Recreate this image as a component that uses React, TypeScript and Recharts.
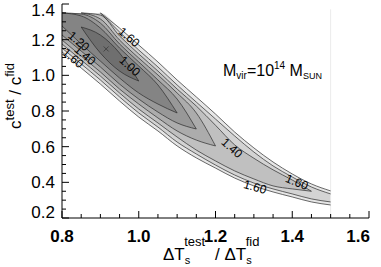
import React from 'react';
import { Area, ComposedChart, Line, ReferenceLine, Scatter, XAxis, YAxis } from 'recharts';

// x grid of the contour map (ΔTs test / fid)
const xGrid = [0.8, 0.85, 0.9, 0.95, 1.0, 1.05, 1.1, 1.15, 1.2, 1.25, 1.3, 1.35, 1.4, 1.45, 1.5];

// upper / lower edge of each filled contour level (1.35 = top of the map)
const level160Hi = [1.35, 1.35, 1.35, 1.265, 1.17, 1.075, 0.974, 0.879, 0.783, 0.682, 0.593, 0.514, 0.447, 0.391, 0.352];
const level160Lo = [1.131, 1.041, 0.951, 0.856, 0.766, 0.688, 0.604, 0.537, 0.48, 0.424, 0.38, 0.346, 0.318, 0.29, 0.273];
const level150Hi = [1.35, 1.35, 1.35, 1.243, 1.142, 1.047, 0.946, 0.85, 0.755, 0.66, 0.57, 0.492, 0.43, 0.374, 0.335];
const level150Lo = [1.153, 1.064, 0.974, 0.879, 0.789, 0.71, 0.626, 0.559, 0.497, 0.441, 0.396, 0.363, 0.335, 0.307, 0.29];
const level140Hi = [1.35, 1.35, 1.338, 1.221, 1.12, 1.024, 0.923, 0.828, 0.72, 0.61, 0.535, 0.47, 0.413, 0.35, null];
const level140Lo = [1.176, 1.086, 0.996, 0.901, 0.811, 0.733, 0.654, 0.581, 0.52, 0.464, 0.419, 0.38, 0.363, 0.35, null];
const level130Hi = [1.35, 1.35, 1.316, 1.198, 1.097, 1.002, 0.901, 0.789, 0.604, null, null, null, null, null, null];
const level130Lo = [1.198, 1.108, 1.019, 0.923, 0.839, 0.761, 0.688, 0.637, 0.604, null, null, null, null, null, null];
const level120Hi = [1.35, 1.344, 1.293, 1.176, 1.075, 0.974, 0.867, 0.699, null, null, null, null, null, null, null];
const level120Lo = [1.226, 1.136, 1.047, 0.951, 0.867, 0.794, 0.733, 0.699, null, null, null, null, null, null, null];
const level110Hi = [1.35, 1.333, 1.265, 1.153, 1.052, 0.946, 0.789, null, null, null, null, null, null, null, null];
const level110Lo = [1.277, 1.176, 1.08, 0.985, 0.901, 0.839, 0.789, null, null, null, null, null, null, null, null];
const level100Hi = [null, 1.271, 1.226, 1.125, 0.968, null, null, null, null, null, null, null, null, null, null];
const level100Lo = [null, 1.271, 1.125, 1.024, 0.968, null, null, null, null, null, null, null, null, null, null];

const MAP_TOP = 1.35;

const contourLabels = [
    { x: 0.975, y: 1.215, text: '1.60', angle: 40 },
    { x: 0.977, y: 1.052, text: '1.00', angle: 42 },
    { x: 0.844, y: 1.192, text: '1.20', angle: 40 },
    { x: 0.86, y: 1.114, text: '1.40', angle: 40 },
    { x: 0.829, y: 1.097, text: '1.60', angle: 40 },
    { x: 1.243, y: 0.593, text: '1.40', angle: 42 },
    { x: 1.412, y: 0.402, text: '1.60', angle: 22 },
    { x: 1.303, y: 0.374, text: '1.60', angle: 16 },
];
const minPoint = [{ x: 0.915, y: 1.148 }];

const xTicks = [0.8, 0.85, 0.9, 0.95, 1.0, 1.05, 1.1, 1.15, 1.2, 1.25, 1.3, 1.35, 1.4, 1.45, 1.5, 1.55, 1.6];
const xMajor = [0.8, 1.0, 1.2, 1.4, 1.6];
const yTicks = [0.2, 0.25, 0.3, 0.35, 0.4, 0.45, 0.5, 0.55, 0.6, 0.65, 0.7, 0.75, 0.8, 0.85, 0.9, 0.95, 1.0, 1.05, 1.1, 1.15, 1.2, 1.25, 1.3, 1.35, 1.4];
const yMajor = [0.2, 0.4, 0.6, 0.8, 1.0, 1.2, 1.4];

const bands = [
    { key: 'c160', lo: level160Lo, hi: level160Hi, fill: '#e6e6e6' },
    { key: 'c150', lo: level150Lo, hi: level150Hi, fill: '#d3d3d3' },
    { key: 'c140', lo: level140Lo, hi: level140Hi, fill: '#c0c0c0' },
    { key: 'c130', lo: level130Lo, hi: level130Hi, fill: '#acacac' },
    { key: 'c120', lo: level120Lo, hi: level120Hi, fill: '#989898' },
    { key: 'c110', lo: level110Lo, hi: level110Hi, fill: '#848484' },
    { key: 'c100', lo: level100Lo, hi: level100Hi, fill: '#6f6f6f' },
];

const data = xGrid.map((x, i) => {
    const row: Record<string, any> = { x };
    bands.forEach((b) => {
        const lo = b.lo[i];
        const hi = b.hi[i];
        row[b.key] = lo == null || hi == null ? null : [lo, hi];
        row[`${b.key}Lo`] = lo;
        // the contour line itself is not drawn where the level runs along the top of the map
        row[`${b.key}Hi`] = hi === MAP_TOP && b.hi[i + 1] === MAP_TOP ? null : hi;
    });
    return row;
});

const FONT = '"Liberation Sans", Arial, Helvetica, sans-serif';

const BottomTick = ({ x, y, payload }: any) => {
    const major = xMajor.includes(payload.value);
    const last = payload.value === 1.6;
    return (
        <g>
            <line x1={x} x2={x} y1={y} y2={y - (major ? 7 : 4)} stroke="#000" />
            {major && (
                <text x={last ? x + 1 : x} y={y + 24} textAnchor={last ? 'end' : 'middle'} fontSize={17} fontWeight="bold" fill="#000">
                    {payload.value.toFixed(1)}
                </text>
            )}
        </g>
    );
};

const TopTick = ({ x, y, payload }: any) => (
    <line x1={x} x2={x} y1={y} y2={y + (xMajor.includes(payload.value) ? 7 : 4)} stroke="#000" />
);

const LeftTick = ({ x, y, payload }: any) => {
    const major = yMajor.includes(payload.value);
    let ty = y + 6;
    if (payload.value === 0.2) ty = y;
    if (payload.value === 1.4) ty = y + 12;
    return (
        <g>
            <line x1={x} x2={x + (major ? 7 : 4)} y1={y} y2={y} stroke="#000" />
            {major && (
                <text x={x - 7} y={ty} textAnchor="end" fontSize={17} fill="#000">
                    {payload.value.toFixed(1)}
                </text>
            )}
        </g>
    );
};

const RightTick = ({ x, y, payload }: any) => (
    <line x1={x} x2={x - (yMajor.includes(payload.value) ? 7 : 4)} y1={y} y2={y} stroke="#000" />
);

const renderLabel = (p: any) => (
    <text
        x={p.cx}
        y={p.cy}
        dy="0.35em"
        textAnchor="middle"
        fontSize={12}
        fill="#000"
        transform={`rotate(${p.payload.angle} ${p.cx} ${p.cy})`}
    >
        {p.payload.text}
    </text>
);

const renderCross = (p: any) => (
    <g stroke="#3a3a3a" strokeWidth={0.8}>
        <line x1={p.cx - 2.5} y1={p.cy - 2.5} x2={p.cx + 2.5} y2={p.cy + 2.5} />
        <line x1={p.cx - 2.5} y1={p.cy + 2.5} x2={p.cx + 2.5} y2={p.cy - 2.5} />
    </g>
);

export default function App() {
    return (
        <div style={{ position: 'absolute', left: 0, top: 0, width: 381, height: 267, background: '#fff', fontFamily: FONT }}>
            <ComposedChart width={381} height={267} data={data} margin={{ top: 4, right: 12, bottom: 0, left: 0 }}>
                <XAxis
                    dataKey="x"
                    type="number"
                    domain={[0.8, 1.6]}
                    allowDataOverflow
                    ticks={xTicks}
                    interval={0}
                    height={49}
                    tickSize={0}
                    tickMargin={0}
                    tickLine={false}
                    tick={<BottomTick />}
                    axisLine={{ stroke: '#000' }}
                />
                <XAxis
                    xAxisId="top"
                    orientation="top"
                    dataKey="x"
                    type="number"
                    domain={[0.8, 1.6]}
                    allowDataOverflow
                    ticks={xTicks}
                    interval={0}
                    height={0}
                    tickSize={0}
                    tickMargin={0}
                    tickLine={false}
                    tick={<TopTick />}
                    axisLine={{ stroke: '#000' }}
                />
                <YAxis
                    type="number"
                    domain={[0.2, 1.4]}
                    allowDataOverflow
                    ticks={yTicks}
                    interval={0}
                    width={62}
                    tickSize={0}
                    tickMargin={0}
                    tickLine={false}
                    tick={<LeftTick />}
                    axisLine={{ stroke: '#000' }}
                />
                <YAxis
                    yAxisId="right"
                    orientation="right"
                    type="number"
                    domain={[0.2, 1.4]}
                    allowDataOverflow
                    ticks={yTicks}
                    interval={0}
                    width={0}
                    tickSize={0}
                    tickMargin={0}
                    tickLine={false}
                    tick={<RightTick />}
                    axisLine={{ stroke: '#000' }}
                />
                <ReferenceLine segment={[{ x: 1.5, y: 0.2 }, { x: 1.5, y: 1.37 }]} stroke="#ebebeb" />
                {bands.map((b) => (
                    <Area
                        key={b.key}
                        dataKey={b.key}
                        type="monotone"
                        fill={b.fill}
                        fillOpacity={1}
                        stroke="none"
                        dot={false}
                        activeDot={false}
                        connectNulls={false}
                        isAnimationActive={false}
                    />
                ))}
                {bands.map((b) => (
                    <Line
                        key={`${b.key}Hi`}
                        dataKey={`${b.key}Hi`}
                        type="monotone"
                        stroke="#2b2b2b"
                        strokeWidth={0.7}
                        dot={false}
                        activeDot={false}
                        connectNulls={false}
                        isAnimationActive={false}
                    />
                ))}
                {bands.map((b) => (
                    <Line
                        key={`${b.key}Lo`}
                        dataKey={`${b.key}Lo`}
                        type="monotone"
                        stroke="#2b2b2b"
                        strokeWidth={0.7}
                        dot={false}
                        activeDot={false}
                        connectNulls={false}
                        isAnimationActive={false}
                    />
                ))}
                <Scatter data={minPoint} dataKey="y" shape={renderCross} isAnimationActive={false} />
                <Scatter data={contourLabels} dataKey="y" shape={renderLabel} isAnimationActive={false} />
            </ComposedChart>
            <svg width={381} height={267} style={{ position: 'absolute', left: 0, top: 0, pointerEvents: 'none' }}>
                <text transform="translate(21,96) rotate(-90)" textAnchor="middle" fontSize={17} fill="#000">
                    c<tspan fontSize={13} dy={-7}>test</tspan>
                    <tspan dy={7}> / c</tspan>
                    <tspan fontSize={13} dy={-7}>fid</tspan>
                </text>
                <text x={163} y={260} fontSize={17} fill="#000">
                    ΔT<tspan fontSize={11} dy={4}>s</tspan>
                    <tspan fontSize={13} dx={-6} dy={-18}>test</tspan>
                    <tspan dx={5} dy={14}> / ΔT</tspan>
                    <tspan fontSize={11} dy={4}>s</tspan>
                    <tspan fontSize={13} dx={-6} dy={-18}>fid</tspan>
                </text>
                <text x={223} y={76} fontSize={16} fill="#000">
                    M<tspan fontSize={10} dy={3}>vir</tspan>
                    <tspan dy={-3}>=10</tspan>
                    <tspan fontSize={10} dy={-7}>14</tspan>
                    <tspan fontSize={16} dy={7}> M</tspan>
                    <tspan fontSize={9} dy={3}>SUN</tspan>
                </text>
            </svg>
        </div>
    );
}
